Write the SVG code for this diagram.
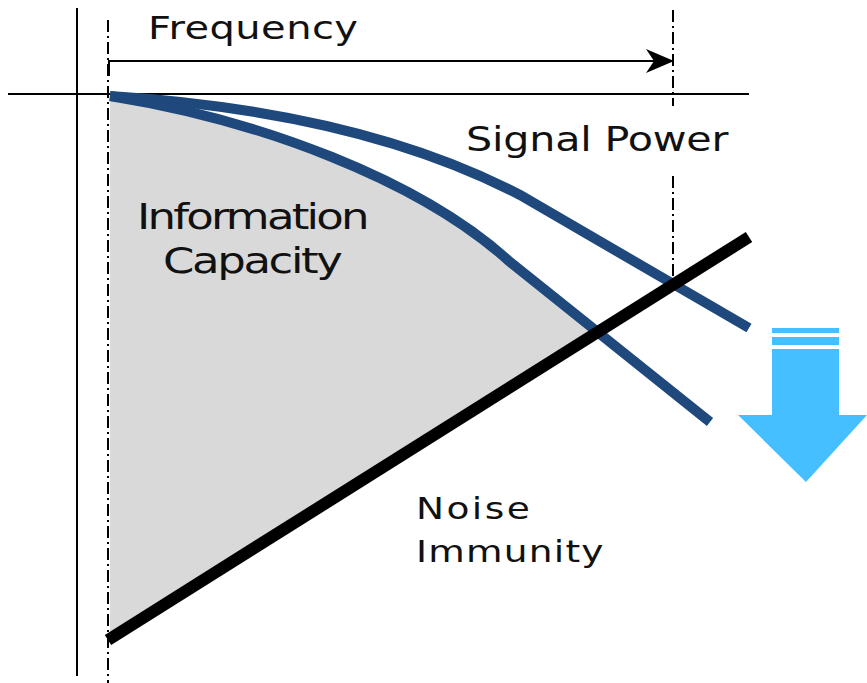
<svg xmlns="http://www.w3.org/2000/svg" width="867" height="683" viewBox="0 0 867 683">
<style>
.t{font-family:"DejaVu Sans",Verdana,sans-serif;fill:#111}
.axis{stroke:#000;stroke-width:2;fill:none}
.dd{stroke:#000;stroke-width:2;fill:none;stroke-dasharray:12 4 2 4}
.sig{stroke:#1f497d;stroke-width:10;fill:none}
</style>
<defs>
<marker id="ah" markerWidth="28" markerHeight="24" refX="27" refY="12" orient="auto" markerUnits="userSpaceOnUse">
<path d="M0,0 L28,12 L0,24 L8,12 Z" fill="#000"/>
</marker>
</defs>
<g id="area">
<path d="M110,96 C260,120 420,180 510,262 L596,332 L110,640 Z" fill="#d9d9d9"/>
</g>
<g id="connectors">
<line class="axis" x1="77" y1="8" x2="77" y2="676"/>
<line class="axis" x1="8" y1="94" x2="749" y2="94"/>
<line class="dd" x1="108" y1="20" x2="108" y2="683"/>
<line class="dd" x1="673" y1="10" x2="673" y2="106"/>
<line class="dd" x1="673" y1="176" x2="673" y2="280"/>
<polyline class="axis" points="109,76 109,61 673,61" marker-end="url(#ah)"/>
<path class="sig" d="M110,96 C300,108 430,148 520,195 L749,328"/>
<path class="sig" d="M110,96 C260,120 420,180 510,262 L710,422"/>
<line x1="108" y1="640" x2="749" y2="237" stroke="#000" stroke-width="12"/>
</g>
<g id="labels">
<text class="t" font-size="32" transform="translate(148,39) scale(1.25,1)" textLength="168" lengthAdjust="spacing">Frequency</text>
<text class="t" font-size="33" transform="translate(466,151) scale(1.25,1)" textLength="210" lengthAdjust="spacing">Signal Power</text>
<text class="t" font-size="36" transform="translate(137,229) scale(1.25,1)" textLength="186" lengthAdjust="spacing">Information</text>
<text class="t" font-size="36" transform="translate(163,273) scale(1.25,1)" textLength="144" lengthAdjust="spacing">Capacity</text>
<text class="t" font-size="30" transform="translate(416,519) scale(1.25,1)" textLength="91" lengthAdjust="spacing">Noise</text>
<text class="t" font-size="30" transform="translate(416,562) scale(1.25,1)" textLength="150" lengthAdjust="spacing">Immunity</text>
</g>
<g id="down-arrow" fill="#45bfff">
<rect x="772" y="328" width="67" height="5"/>
<rect x="772" y="337" width="67" height="8"/>
<path d="M772,349 L839,349 L839,415 L867,415 L806,482 L738,415 L772,415 Z"/>
</g>
</svg>
